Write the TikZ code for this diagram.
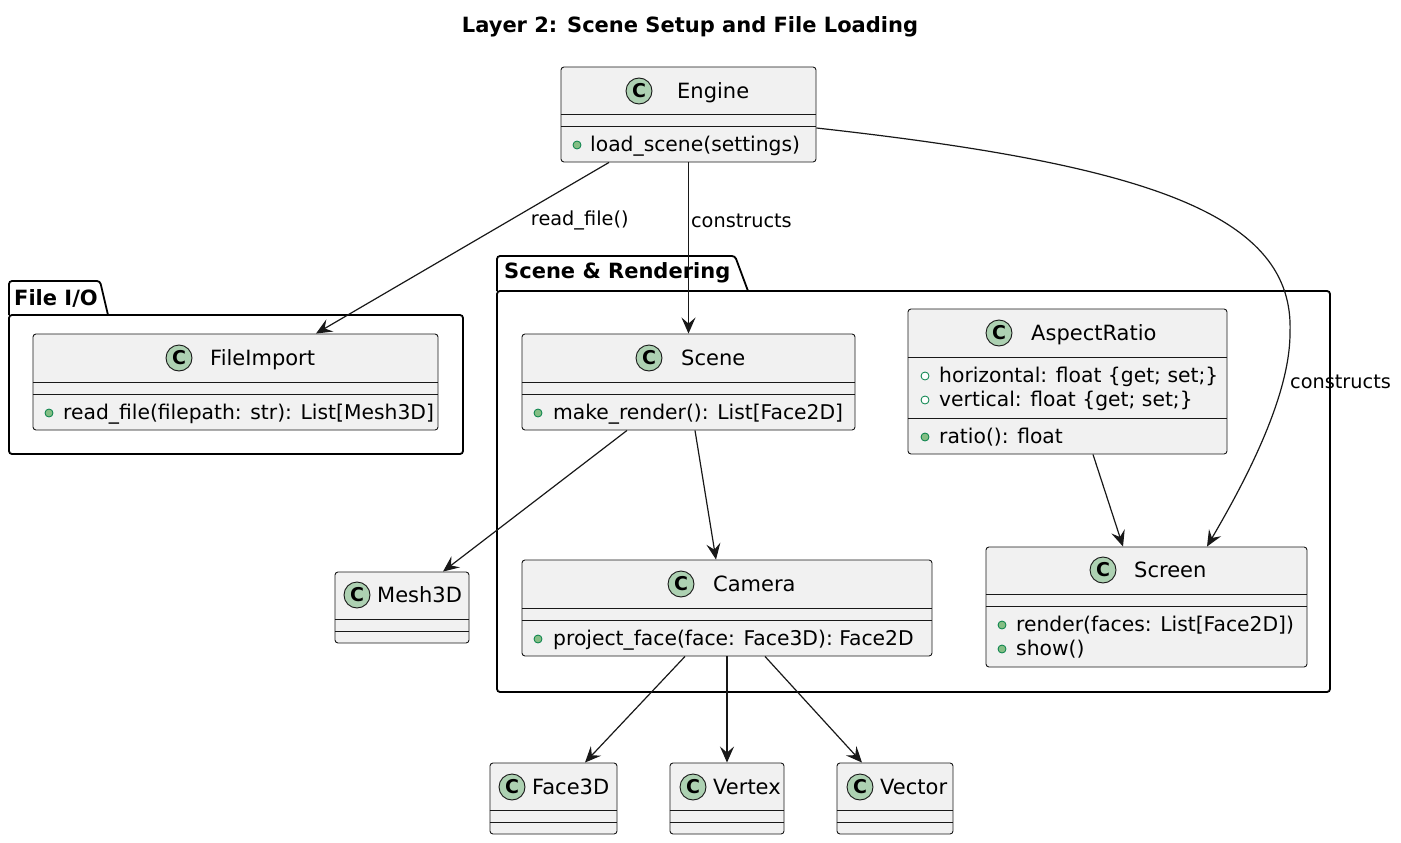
\documentclass[tikz,border=0pt]{standalone}
\usepackage{fontspec}
\setmainfont{DejaVu Sans}
\usetikzlibrary{arrows.meta}
\definecolor{classbg}{HTML}{F1F1F1}
\definecolor{classline}{HTML}{181818}
\definecolor{iconbg}{HTML}{ADD1B2}
\definecolor{dotbg}{HTML}{84BE84}
\definecolor{dotline}{HTML}{038048}
\newcommand{\umlfont}{\fontsize{21}{25}\selectfont}
\newcommand{\memberfont}{\fontsize{20.3}{24}\selectfont}
\newcommand{\lblfont}{\fontsize{19.3}{23}\selectfont}
\tikzset{
  umlbox/.style={draw=classline, fill=classbg, rounded corners=3pt, line width=0.9pt, inner sep=0pt},
  divider/.style={draw=classline, line width=0.9pt},
  icon/.style={circle, draw=classline, fill=iconbg, minimum size=26pt, inner sep=0pt, line width=0.9pt,
    font=\fontsize{19}{19}\selectfont\bfseries},
  cname/.style={font=\umlfont, inner sep=0pt, anchor=west, text height=15.3pt, text depth=0pt},
  member/.style={font=\memberfont, inner sep=0pt, anchor=west, text height=14.8pt, text depth=2.8pt},
  method/.style={circle, fill=dotbg, draw=dotline, minimum size=8pt, inner sep=0pt, line width=0.8pt},
  field/.style={circle, fill=white, draw=dotline, minimum size=8pt, inner sep=0pt, line width=0.8pt},
  pkg/.style={draw=black, line width=1.8pt, rounded corners=3pt},
  pkgname/.style={font=\umlfont\bfseries, inner sep=0pt, anchor=west},
  title/.style={font=\umlfont\bfseries, inner sep=0pt},
  dep/.style={-{Stealth[length=16pt,width=14pt,inset=6pt]}, line width=1.2pt, color=classline},
  lbl/.style={font=\lblfont, inner sep=1pt, text=black}
}
\begin{document}
\begin{tikzpicture}[x=1pt,y=-1pt]
  \useasboundingbox (0,0) rectangle (1401,843);
  \node[title] (title) at (690,27) {Layer 2: Scene Setup and File Loading};

  % packages
  \draw[pkg] (9,315) rectangle (463,454);
  \draw[pkg] (9,315) -- (9,281) -- (100,281) -- (108,315);
  \node[pkgname] (fileio) at (14,298) {File I/O};
  \draw[pkg] (497,291) rectangle (1330,692);
  \draw[pkg] (497,291) -- (497,256) -- (735,256) -- (748,291);
  \node[pkgname] (render) at (504,273) {Scene \& Rendering};

  % Engine
  \node[umlbox, minimum width=255pt, minimum height=95pt] (engine) at (688.5,114.5) {};
  \draw[divider] (engine.west |- 0,114) -- (engine.east |- 0,114);
  \draw[divider] (engine.west |- 0,126) -- (engine.east |- 0,126);
  \node[icon] (engineC) at (639,91) {C};
  \node[cname] (engineN) at (677,91) {Engine};
  \node[method] (engineM) at (577,145) {};
  \node[member] (engineT) at (590,145) {load\_scene(settings)};

  % FileImport
  \node[umlbox, minimum width=405pt, minimum height=96pt] (fileimport) at (235.5,382) {};
  \draw[divider] (fileimport.west |- 0,382) -- (fileimport.east |- 0,382);
  \draw[divider] (fileimport.west |- 0,394) -- (fileimport.east |- 0,394);
  \node[icon] (fileimportC) at (179,358) {C};
  \node[cname] (fileimportN) at (210,358) {FileImport};
  \node[method] (fileimportM) at (49,413) {};
  \node[member] (fileimportT) at (63,413) {read\_file(filepath: str): List[Mesh3D]};

  % Scene
  \node[umlbox, minimum width=333pt, minimum height=96pt] (scene) at (688.5,382) {};
  \draw[divider] (scene.west |- 0,382) -- (scene.east |- 0,382);
  \draw[divider] (scene.west |- 0,394) -- (scene.east |- 0,394);
  \node[icon] (sceneC) at (649,358) {C};
  \node[cname] (sceneN) at (681,358) {Scene};
  \node[method] (sceneM) at (538,413) {};
  \node[member] (sceneT) at (553,413) {make\_render(): List[Face2D]};

  % AspectRatio
  \node[umlbox, minimum width=319pt, minimum height=145pt] (aspect) at (1067.5,381.5) {};
  \draw[divider] (aspect.west |- 0,357) -- (aspect.east |- 0,357);
  \draw[divider] (aspect.west |- 0,418) -- (aspect.east |- 0,418);
  \node[icon] (aspectC) at (999,333) {C};
  \node[cname] (aspectN) at (1031,333) {AspectRatio};
  \node[field] (aspectF1) at (925,376) {};
  \node[member] (aspectT1) at (939,376) {horizontal: float \{get; set;\}};
  \node[field] (aspectF2) at (925,400) {};
  \node[member] (aspectT2) at (939,400) {vertical: float \{get; set;\}};
  \node[method] (aspectM) at (925,437) {};
  \node[member] (aspectT3) at (939,437) {ratio(): float};

  % Screen
  \node[umlbox, minimum width=321pt, minimum height=120pt] (screen) at (1146.5,607) {};
  \draw[divider] (screen.west |- 0,594) -- (screen.east |- 0,594);
  \draw[divider] (screen.west |- 0,606) -- (screen.east |- 0,606);
  \node[icon] (screenC) at (1103,570) {C};
  \node[cname] (screenN) at (1134,570) {Screen};
  \node[method] (screenM1) at (1002,625) {};
  \node[member] (screenT1) at (1016,625) {render(faces: List[Face2D])};
  \node[method] (screenM2) at (1002,649) {};
  \node[member] (screenT2) at (1016,649) {show()};

  % Camera
  \node[umlbox, minimum width=410pt, minimum height=96pt] (camera) at (727,608) {};
  \draw[divider] (camera.west |- 0,608) -- (camera.east |- 0,608);
  \draw[divider] (camera.west |- 0,620) -- (camera.east |- 0,620);
  \node[icon] (cameraC) at (681,584) {C};
  \node[cname] (cameraN) at (713,584) {Camera};
  \node[method] (cameraM) at (538,639) {};
  \node[member] (cameraT) at (553,639) {project\_face(face: Face3D): Face2D};

  % Mesh3D
  \node[umlbox, minimum width=134pt, minimum height=71pt] (mesh) at (402,607.5) {};
  \draw[divider] (mesh.west |- 0,619) -- (mesh.east |- 0,619);
  \draw[divider] (mesh.west |- 0,631) -- (mesh.east |- 0,631);
  \node[icon] (meshC) at (357,595) {C};
  \node[cname] (meshN) at (377,595) {Mesh3D};

  % Face3D, Vertex, Vector
  \node[umlbox, minimum width=127pt, minimum height=71pt] (face3d) at (553.5,798.5) {};
  \draw[divider] (face3d.west |- 0,810) -- (face3d.east |- 0,810);
  \draw[divider] (face3d.west |- 0,822) -- (face3d.east |- 0,822);
  \node[icon] (face3dC) at (512,787) {C};
  \node[cname] (face3dN) at (532,787) {Face3D};

  \node[umlbox, minimum width=114pt, minimum height=71pt] (vertex) at (727,798.5) {};
  \draw[divider] (vertex.west |- 0,810) -- (vertex.east |- 0,810);
  \draw[divider] (vertex.west |- 0,822) -- (vertex.east |- 0,822);
  \node[icon] (vertexC) at (693,787) {C};
  \node[cname] (vertexN) at (713,787) {Vertex};

  \node[umlbox, minimum width=116pt, minimum height=71pt] (vector) at (895,798.5) {};
  \draw[divider] (vector.west |- 0,810) -- (vector.east |- 0,810);
  \draw[divider] (vector.west |- 0,822) -- (vector.east |- 0,822);
  \node[icon] (vectorC) at (860,787) {C};
  \node[cname] (vectorN) at (880,787) {Vector};

  % connectors
  \path[dep]
    ([xshift=-79.5pt]engine.south) edge node[lbl, pos=0.34, right=20pt] {read\_file()} ([xshift=80.5pt]fileimport.north)
    (engine.south) edge node[lbl, pos=0.34, right=1pt] {constructs} (scene.north)
    ([xshift=-61.5pt]scene.south) edge ([xshift=41pt]mesh.north)
    ([xshift=6.5pt]scene.south) edge ([xshift=-11pt]camera.north)
    ([xshift=25.5pt]aspect.south) edge ([xshift=-23.5pt]screen.north)
    ([xshift=-42pt]camera.south) edge ([xshift=31.5pt]face3d.north)
    (camera.south) edge (vertex.north)
    ([xshift=38pt]camera.south) edge ([xshift=-33pt]vector.north)
    ([yshift=-13.5pt]engine.east) edge[to path={.. controls (1150,165) and (1295,215) .. (1290,333)
      .. controls (1290,400) and (1240,490) .. (\tikztotarget)}] ([xshift=60.5pt]screen.north)
    ;
  \node[lbl, anchor=west] (constructsB) at (1289,382) {constructs};
\end{tikzpicture}
\end{document}
